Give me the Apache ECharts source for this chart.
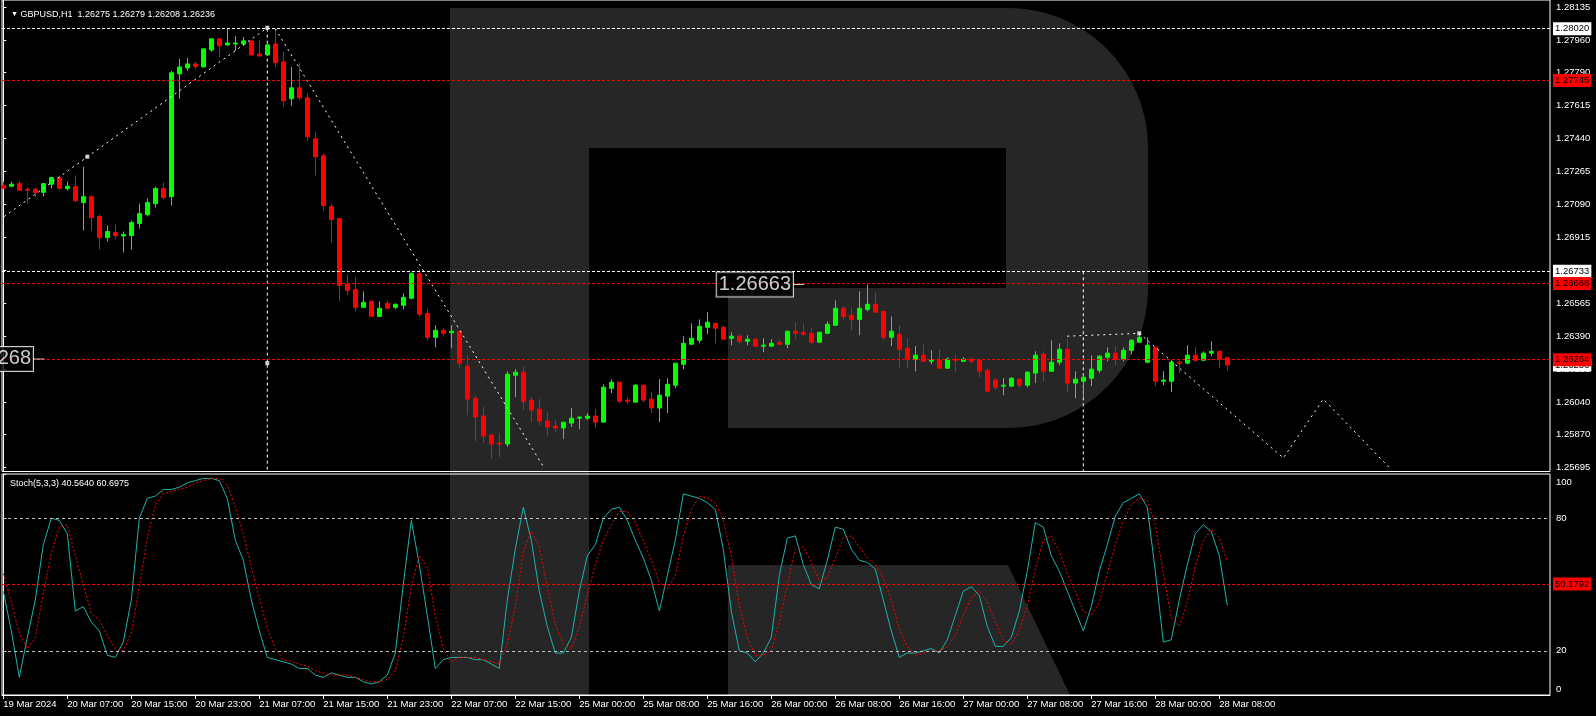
<!DOCTYPE html>
<html><head><meta charset="utf-8">
<script src="https://cdn.jsdelivr.net/npm/echarts@6/dist/echarts.min.js"></script>
<style>html,body{margin:0;padding:0;background:#000;}#c{width:1596px;height:716px;}</style>
</head><body><div id="c"></div>
<script>
// ---------- DATA ----------
const open = [1.27188,1.27184,1.27198,1.27168,1.27168,1.27152,1.27195,1.27230,1.27172,1.27182,
1.27098,1.27129,1.27024,1.26912,1.26939,1.26920,1.26923,1.26987,1.27034,1.27092,
1.27172,1.27129,1.27780,1.27812,1.27833,1.27817,1.27907,1.27966,1.27934,1.27939,
1.27939,1.27955,1.27886,1.27881,1.27939,1.27844,1.27648,1.27706,1.27653,1.27436,
1.27346,1.27076,1.27013,1.26664,1.26637,1.26542,1.26574,1.26494,1.26563,1.26542,
1.26553,1.26590,1.26722,1.26510,1.26383,1.26420,1.26407,1.26415,1.26230,1.26060,
1.25965,1.25865,1.25822,1.25817,1.26182,1.26198,1.26050,1.26002,1.25939,1.25912,
1.25902,1.25928,1.25954,1.25954,1.25965,1.25933,1.26113,1.26145,1.26050,1.26039,
1.26129,1.26055,1.26008,1.26071,1.26129,1.26240,1.26346,1.26367,1.26436,1.26457,
1.26436,1.26378,1.26389,1.26362,1.26373,1.26336,1.26336,1.26357,1.26346,1.26415,
1.26410,1.26404,1.26357,1.26404,1.26447,1.26537,1.26500,1.26478,1.26531,1.26558,
1.26521,1.26383,1.26399,1.26325,1.26267,1.26288,1.26256,1.26261,1.26219,1.26267,
1.26256,1.26267,1.26261,1.26208,1.26156,1.26124,1.26124,1.26161,1.26129,1.26193,
1.26293,1.26203,1.26251,1.26320,1.26140,1.26150,1.26166,1.26208,1.26277,1.26299,
1.26267,1.26314,1.26357,1.26251,1.26330,1.26150,1.26150,1.26251,1.26246,1.26288,
1.26261,1.26299,1.26309,1.26275];
const close = [1.27173,1.27195,1.27163,1.27163,1.27151,1.27198,1.27230,1.27173,1.27184,1.27108,
1.27129,1.27018,1.26912,1.26944,1.26923,1.26928,1.26992,1.27039,1.27098,1.27172,
1.27124,1.27786,1.27817,1.27833,1.27819,1.27913,1.27966,1.27929,1.27944,1.27944,
1.27955,1.27881,1.27876,1.27934,1.27839,1.27638,1.27706,1.27653,1.27447,1.27341,
1.27082,1.27008,1.26658,1.26632,1.26542,1.26568,1.26494,1.26537,1.26537,1.26558,
1.26595,1.26722,1.26505,1.26383,1.26420,1.26404,1.26415,1.26246,1.26055,1.25960,
1.25859,1.25817,1.25817,1.26187,1.26198,1.26044,1.25997,1.25939,1.25907,1.25902,
1.25933,1.25954,1.25960,1.25965,1.25933,1.26118,1.26145,1.26044,1.26044,1.26129,
1.26050,1.26008,1.26076,1.26134,1.26246,1.26351,1.26378,1.26441,1.26463,1.26431,
1.26373,1.26389,1.26362,1.26373,1.26336,1.26341,1.26351,1.26346,1.26415,1.26404,
1.26399,1.26357,1.26410,1.26452,1.26537,1.26494,1.26478,1.26537,1.26558,1.26516,
1.26383,1.26415,1.26320,1.26267,1.26288,1.26256,1.26261,1.26219,1.26267,1.26261,
1.26267,1.26256,1.26203,1.26097,1.26118,1.26129,1.26166,1.26129,1.26198,1.26288,
1.26203,1.26251,1.26320,1.26140,1.26161,1.26171,1.26214,1.26283,1.26299,1.26267,
1.26314,1.26367,1.26383,1.26341,1.26150,1.26156,1.26251,1.26246,1.26288,1.26261,
1.26299,1.26309,1.26267,1.26236];
const low = [1.27172,1.27179,1.27160,1.27092,1.27126,1.27131,1.27173,1.27166,1.27161,1.27098,
1.26949,1.26949,1.26849,1.26891,1.26902,1.26833,1.26849,1.26960,1.27024,1.27071,
1.27114,1.27082,1.27648,1.27796,1.27807,1.27817,1.27897,1.27870,1.27929,1.27902,
1.27929,1.27881,1.27870,1.27881,1.27817,1.27606,1.27611,1.27643,1.27426,1.27241,
1.27055,1.26886,1.26574,1.26605,1.26521,1.26542,1.26494,1.26494,1.26531,1.26531,
1.26531,1.26584,1.26494,1.26367,1.26330,1.26389,1.26325,1.26219,1.25970,1.25833,
1.25822,1.25737,1.25748,1.25801,1.26066,1.25997,1.25933,1.25917,1.25859,1.25880,
1.25843,1.25907,1.25896,1.25944,1.25902,1.25933,1.26087,1.26034,1.26029,1.26039,
1.26039,1.25981,1.25933,1.25981,1.26113,1.26214,1.26346,1.26351,1.26399,1.26351,
1.26373,1.26341,1.26346,1.26341,1.26336,1.26304,1.26336,1.26341,1.26325,1.26373,
1.26389,1.26346,1.26357,1.26404,1.26447,1.26473,1.26420,1.26394,1.26521,1.26516,
1.26367,1.26336,1.26224,1.26219,1.26203,1.26256,1.26240,1.26219,1.26219,1.26198,
1.26256,1.26246,1.26171,1.26097,1.26103,1.26076,1.26124,1.26113,1.26118,1.26140,
1.26150,1.26203,1.26235,1.26092,1.26060,1.26060,1.26124,1.26193,1.26256,1.26235,
1.26256,1.26293,1.26357,1.26246,1.26124,1.26129,1.26092,1.26193,1.26240,1.26251,
1.26261,1.26283,1.26219,1.26208];
const high = [1.27209,1.27209,1.27214,1.27179,1.27175,1.27200,1.27235,1.27241,1.27209,1.27241,
1.27288,1.27135,1.27034,1.26976,1.26981,1.26944,1.27002,1.27092,1.27119,1.27182,
1.27204,1.27796,1.27860,1.27865,1.27844,1.27913,1.27971,1.27966,1.28019,1.27982,
1.27976,1.27960,1.27960,1.27939,1.28020,1.27897,1.27817,1.27839,1.27675,1.27473,
1.27357,1.27092,1.27013,1.26717,1.26701,1.26627,1.26574,1.26574,1.26579,1.26563,
1.26616,1.26722,1.26743,1.26531,1.26447,1.26431,1.26447,1.26420,1.26288,1.26076,
1.26013,1.25865,1.25875,1.26203,1.26214,1.26230,1.26066,1.26055,1.25986,1.25944,
1.25933,1.26007,1.25962,1.25981,1.26002,1.26134,1.26161,1.26145,1.26066,1.26134,
1.26129,1.26092,1.26161,1.26166,1.26246,1.26389,1.26457,1.26478,1.26516,1.26457,
1.26447,1.26410,1.26399,1.26394,1.26378,1.26378,1.26373,1.26373,1.26420,1.26463,
1.26457,1.26436,1.26410,1.26468,1.26579,1.26547,1.26542,1.26627,1.26663,1.26621,
1.26521,1.26494,1.26447,1.26378,1.26336,1.26346,1.26314,1.26320,1.26277,1.26293,
1.26277,1.26277,1.26261,1.26219,1.26166,1.26166,1.26171,1.26166,1.26203,1.26309,
1.26309,1.26367,1.26351,1.26378,1.26203,1.26182,1.26288,1.26288,1.26330,1.26336,
1.26330,1.26373,1.26399,1.26383,1.26330,1.26203,1.26261,1.26261,1.26341,1.26330,
1.26309,1.26362,1.26309,1.26279];

const stochMain = [47,29,8,26,43,68,80,79,73,38,
40,33,29,18,17,24,43,80,89,90,
93,93,94,96,97,98,98,97,89,70,
61,43,29,17,16,15,14,12,12,9,
8,10,9,8,8,6,5,6,9,19,
50,79,59,36,12,16,17,17,17,16,
16,14,12,43,66,85,70,47,31,19,
19,26,47,63,68,80,84,85,79,70,
62,52,38,54,70,91,90,89,87,84,
66,38,20,19,15,19,26,54,71,72,
59,50,48,61,76,75,66,61,60,57,
43,29,17,19,19,20,21,19,25,36,
47,49,45,31,22,22,26,38,56,78,
76,63,56,47,38,29,40,56,68,81,
87,89,91,85,56,24,25,43,59,73,
77,74,63,40.564];
const stochSignal = [55,42,28,21,26,46,64,76,77,63,
50,37,34,27,21,20,28,49,71,86,
91,92,93,94,96,97,98,98,95,85,
73,58,44,30,21,16,15,14,13,11,
10,9,9,9,8,7,6,6,7,11,
26,49,63,58,36,21,15,17,17,17,
16,15,14,23,40,65,74,67,49,32,
23,21,31,45,59,70,77,83,83,78,
70,61,51,48,54,72,84,90,89,87,
79,63,41,26,18,18,20,33,50,66,
67,60,52,53,62,71,72,67,62,59,
53,43,30,22,18,19,20,20,22,27,
36,44,47,42,33,25,23,29,40,57,
70,72,65,55,47,38,36,42,55,68,
79,86,89,88,77,55,35,31,42,58,
70,75,71,60.6975];

const xTickBars = [0,8,16,24,32,40,48,56,64,72,80,88,96,104,112,120,128,136,144,152];
const xTickLabels = ['19 Mar 2024','20 Mar 07:00','20 Mar 15:00','20 Mar 23:00','21 Mar 07:00','21 Mar 15:00',
'21 Mar 23:00','22 Mar 07:00','22 Mar 15:00','25 Mar 00:00','25 Mar 08:00','25 Mar 16:00','26 Mar 00:00',
'26 Mar 08:00','26 Mar 16:00','27 Mar 00:00','27 Mar 08:00','27 Mar 16:00','28 Mar 00:00','28 Mar 08:00'];
const priceTicks = [1.28135,1.27960,1.27790,1.27615,1.27440,1.27265,1.27090,1.26915,1.26740,1.26565,1.26390,1.26215,1.26040,1.25870,1.25695];
const stochTicks = [0,20,80,100];

const priceLevels = [
  {value:1.28020, kind:'white'},
  {value:1.27745, kind:'red'},
  {value:1.26733, kind:'white'},
  {value:1.26668, kind:'red'},
  {value:1.26236, kind:'bid'},
  {value:1.26264, kind:'red'}
];
const stochLevelRed = 50.1792;
const zigzag1 = [[-0.5,1.27005],[33,1.28025]];
const zigzag2 = [[34,1.28020],[67.6,1.25690]];
const forecast = [[133,1.26389],[142,1.26404],[160,1.25743],[165,1.26055],[173.3,1.25690]];
const vLine1 = [[33,1.28020],[33,1.2567]];
const vLine2 = [[135,1.26733],[135,1.2567]];
const markers = [[10.5,1.27341],[33,1.28025],[33,1.26246],[142,1.26404]];
const priceTexts = [{x:99.4, y:1.26663, text:'1.26663'},{x:4.4, y:1.26268, text:'1.26268'}];

// ---------- LAYOUT ----------
const FONT = "'Liberation Sans',Arial,sans-serif";
const FS = 9.5;
const X_MIN = -0.1625, X_MAX = 193.3375;
const Y_MIN = 1.256712, Y_MAX = 1.281721;

function arc(cx, cy, r, a0, a1, n){const p=[];for(let k=0;k<=n;k++){const a=a0+(a1-a0)*k/n;p.push([cx+r*Math.cos(a),cy+r*Math.sin(a)]);}return p;}
const logoOuter = [[450,8]].concat(arc(1008,148,140,-Math.PI/2,0,30), arc(1008,288,140,0,Math.PI/2,30),
  [[728,428],[728,288],[1006,288],[1006,148],[589,148],[589,695],[450,695]]);
const logoLeg = [[728,565],[1008,565],[1070,695],[728,695]];

const chart = echarts.init(document.getElementById('c'), null, {renderer:'canvas'});
const candles = open.map((o,i)=>[i,o,close[i],low[i],high[i]]);
const dotted = {color:'#fff', width:1, type:[2,4]};

function levelItem(l){
  if(l.kind==='bid') return {yAxis:l.value, lineStyle:{color:'rgba(0,0,0,0)', width:0}, label:{formatter:l.value.toFixed(5), backgroundColor:'#fff', color:'#000'}};
  const c = l.kind==='red' ? '#ff0000' : '#ffffff';
  return {yAxis:l.value, lineStyle:{color:c, type:[3,2], width:1}, label:{formatter:l.value.toFixed(5), backgroundColor:c, color:'#000'}};
}

const option = {
  backgroundColor:'#000',
  animation:false,
  textStyle:{fontFamily:FONT},
  title:[
    {text:'{a|▼} GBPUSD,H1  1.26275 1.26279 1.26208 1.26236', left:6, top:5,
     textStyle:{color:'#fff', fontSize:9, fontWeight:'normal', fontFamily:FONT, rich:{a:{fontSize:7, color:'#fff'}}}},
    {text:'Stoch(5,3,3) 40.5640 60.6975', left:5, top:474,
     textStyle:{color:'#fff', fontSize:9, fontWeight:'normal', fontFamily:FONT}}
  ],
  graphic:{elements:[
    {type:'polygon', z:-1, silent:true, shape:{points:logoOuter}, style:{fill:'#262626'}},
    {type:'polygon', z:-1, silent:true, shape:{points:logoLeg}, style:{fill:'#262626'}}
  ]},
  grid:[
    {left:2, right:46, top:-1, height:472.5, show:true, borderColor:'#fff', borderWidth:1, backgroundColor:'transparent'},
    {left:2, right:46, top:474, height:221, show:true, borderColor:'#fff', borderWidth:1, backgroundColor:'transparent'}
  ],
  xAxis:[
    {type:'value', gridIndex:0, min:X_MIN, max:X_MAX, show:false},
    {type:'value', gridIndex:1, min:X_MIN, max:X_MAX,
     axisLine:{show:true, lineStyle:{color:'#fff'}},
     axisTick:{show:true, customValues:xTickBars, length:4, inside:false, lineStyle:{color:'#fff'}},
     axisLabel:{customValues:xTickBars, color:'#fff', fontSize:FS, fontFamily:FONT, align:'left', margin:4,
       formatter:(v)=>{const k=xTickBars.indexOf(Math.round(v));return k>=0?xTickLabels[k]:'';}},
     splitLine:{show:false}}
  ],
  yAxis:[
    {type:'value', gridIndex:0, position:'right', min:Y_MIN, max:Y_MAX,
     axisLine:{show:true, lineStyle:{color:'#fff'}},
     axisTick:{show:true, customValues:priceTicks, length:3, lineStyle:{color:'#fff'}},
     axisLabel:{customValues:priceTicks, color:'#fff', fontSize:FS, fontFamily:FONT, margin:6, formatter:(v)=>v.toFixed(5)},
     splitLine:{show:false}},
    {type:'value', gridIndex:1, position:'right', min:0, max:100,
     axisLine:{show:true, lineStyle:{color:'#fff'}},
     axisTick:{show:true, customValues:stochTicks, length:3, lineStyle:{color:'#fff'}},
     axisLabel:{customValues:stochTicks, color:'#fff', fontSize:FS, fontFamily:FONT, margin:6,
       rich:{top:{padding:[17,0,0,0], fontSize:FS, color:'#fff'}, bot:{padding:[0,0,11,0], fontSize:FS, color:'#fff'}},
       formatter:(v)=>{const r=Math.round(v); if(r===100) return '{top|100}'; if(r===0) return '{bot|0}'; return String(r);}},
     splitLine:{show:false}}
  ],
  series:[
    {type:'line', xAxisIndex:0, yAxisIndex:0, data:vLine1, symbol:'none', silent:true, lineStyle:{color:'#fff', width:1, type:[3,3]}, z:1,
     markLine:{symbol:['none','none'], silent:true, animation:false, precision:6,
       label:{show:true, position:'end', distance:3, fontSize:FS, fontFamily:FONT, padding:[2,2,1,2]},
       data:priceLevels.map(levelItem)}},
    {type:'line', xAxisIndex:0, yAxisIndex:0, data:vLine2, symbol:'none', silent:true, lineStyle:{color:'#fff', width:1, type:[3,3]}, z:1},
    {type:'candlestick', xAxisIndex:0, yAxisIndex:0, data:candles, encode:{x:0, y:[1,2,3,4]}, barWidth:4,
     itemStyle:{color:'#00ff00', color0:'#ff0000', borderColor:'#00ff00', borderColor0:'#ff0000', borderWidth:1}},
    {type:'line', xAxisIndex:0, yAxisIndex:0, data:zigzag1, symbol:'none', silent:true, lineStyle:dotted},
    {type:'line', xAxisIndex:0, yAxisIndex:0, data:zigzag2, symbol:'none', silent:true, lineStyle:dotted},
    {type:'line', xAxisIndex:0, yAxisIndex:0, data:forecast, symbol:'none', silent:true, lineStyle:dotted},
    {type:'scatter', xAxisIndex:0, yAxisIndex:0, data:markers, symbol:'rect', symbolSize:4, itemStyle:{color:'#fff'}, silent:true},
    {type:'scatter', xAxisIndex:0, yAxisIndex:0, data:priceTexts.map(t=>[t.x,t.y,t.text]), symbol:'rect', symbolSize:[11,1],
     itemStyle:{color:'#fff'}, silent:true, z:5,
     label:{show:true, position:'left', distance:0, formatter:(p)=>p.data[2], color:'#fff', fontSize:20, fontFamily:FONT,
       lineHeight:22, borderColor:'#fff', borderWidth:1, padding:[2,2,0,2], backgroundColor:'#000'}},
    {type:'line', xAxisIndex:1, yAxisIndex:1, data:stochMain.map((v,i)=>[i,v]), symbol:'none', silent:true,
     lineStyle:{color:'#20b2aa', width:1},
     markLine:{symbol:['none','none'], silent:true, animation:false, precision:4,
       data:[
         {yAxis:80, lineStyle:{color:'#c0c0c0', type:[3,3], width:1}, label:{show:false}},
         {yAxis:20, lineStyle:{color:'#c0c0c0', type:[3,3], width:1}, label:{show:false}},
         {yAxis:stochLevelRed, lineStyle:{color:'#ff0000', type:[3,2], width:1},
          label:{show:true, position:'end', distance:3, formatter:stochLevelRed.toFixed(4), backgroundColor:'#ff0000', color:'#000',
                 fontSize:FS, fontFamily:FONT, padding:[2,2,1,2]}}
       ]}},
    {type:'line', xAxisIndex:1, yAxisIndex:1, data:stochSignal.map((v,i)=>[i,v]), symbol:'none', silent:true,
     lineStyle:{color:'#ff0000', width:1, type:[2,2]}}
  ]
};
chart.setOption(option);
</script></body></html>
